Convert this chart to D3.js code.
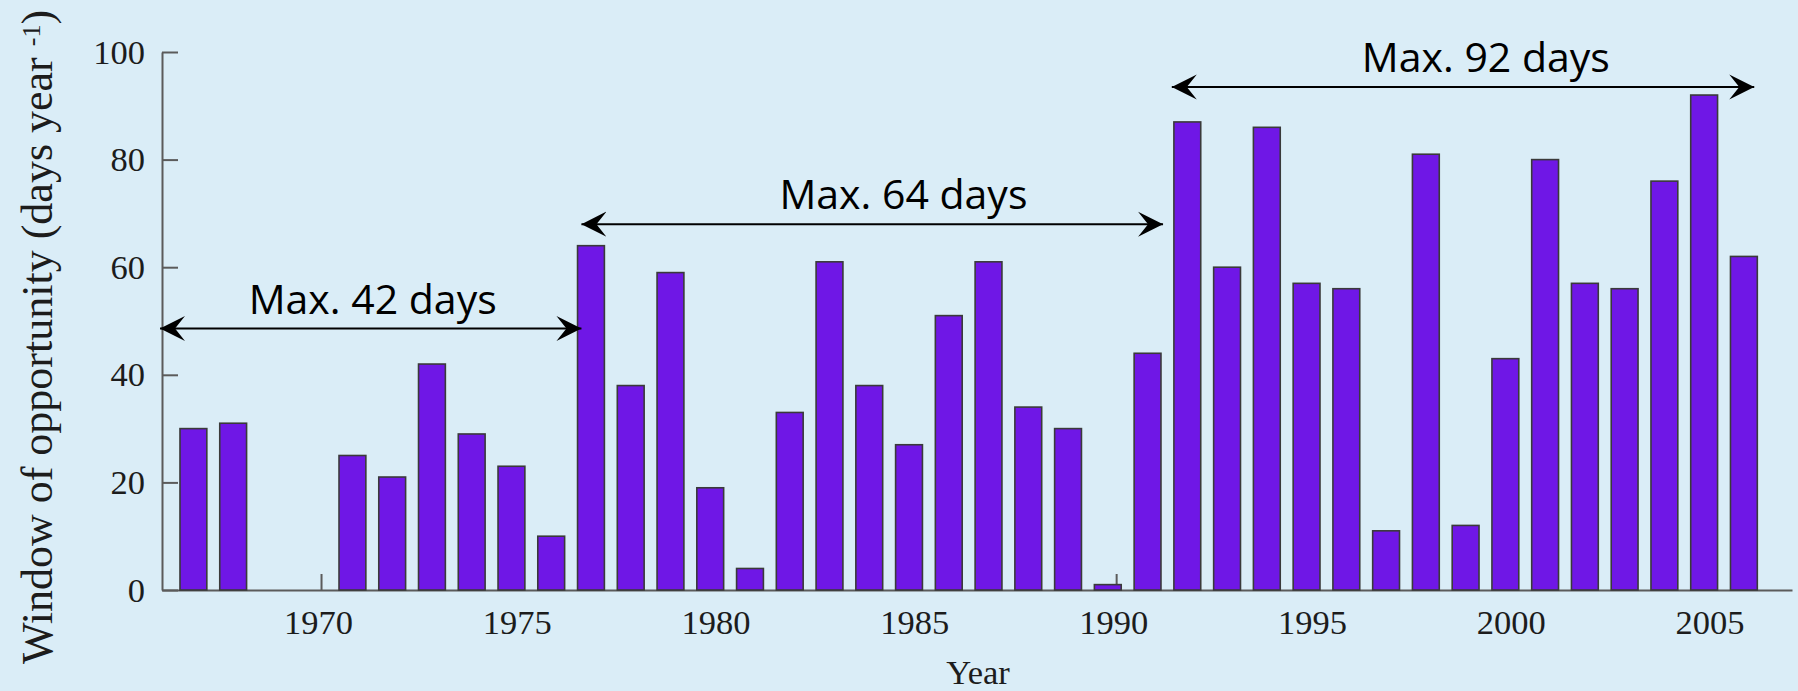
<!DOCTYPE html>
<html lang="en">
<head>
  <meta charset="UTF-8">
  <title>Window of opportunity</title>
  <script src="https://cdnjs.cloudflare.com/ajax/libs/d3/7.8.5/d3.min.js"></script>
  <style>
    html, body { margin: 0; padding: 0; background: #daedf7; }
    svg { display: block; }
  </style>
</head>
<body>
<svg id="chart" width="1798" height="691"></svg>
<script>
  // one bar per year, null = no bar drawn
  var years = [1967, 1968, 1969, 1970, 1971, 1972, 1973, 1974, 1975, 1976,
               1977, 1978, 1979, 1980, 1981, 1982, 1983, 1984, 1985, 1986,
               1987, 1988, 1989, 1990, 1991, 1992, 1993, 1994, 1995, 1996,
               1997, 1998, 1999, 2000, 2001, 2002, 2003, 2004, 2005, 2006];
  var days = [30, 31, null, null, 25, 21, 42, 29, 23, 10,
              64, 38, 59, 19, 4, 33, 61, 38, 27, 51,
              61, 34, 30, 1, 44, 87, 60, 86, 57, 56,
              11, 81, 12, 43, 80, 57, 56, 76, 92, 62];
  var xTicks = [1970, 1975, 1980, 1985, 1990, 1995, 2000, 2005];
  var yTicks = [0, 20, 40, 60, 80, 100];

  // the three "max" periods: arrow from / to (years), height (days), label
  var periodLabels = ['Max. 42 days', 'Max. 64 days', 'Max. 92 days'];
  var periodFrom = [1965.95, 1976.55, 1991.4];
  var periodTo = [1976.55, 1991.18, 2006.05];
  var periodLevel = [48.6, 68, 93.5];
  var periodLabelAt = [1971.3, 1984.65, 1999.3];

  var svg = d3.select('#chart');
  var x = d3.scaleLinear().domain([1966, 2007]).range([162, 1792]);
  var y = d3.scaleLinear().domain([0, 100]).range([590, 52]);
  var step = x(1967) - x(1966);
  var barW = step * 0.675;
  var barShift = -0.21 * step;   // bars sit a little left of the year ticks

  var axisColor = '#5b5b5b';
  var serif = '"Liberation Serif", "Times New Roman", serif';

  var gx = svg.append('g').attr('transform', 'translate(0,' + y(0) + ')')
    .call(d3.axisBottom(x).tickValues(xTicks).tickFormat(d3.format('d'))
      .tickSizeInner(-16).tickSizeOuter(0).tickPadding(20));
  var gy = svg.append('g').attr('transform', 'translate(' + x(1966) + ',0)')
    .call(d3.axisLeft(y).tickValues(yTicks)
      .tickSizeInner(-16).tickSizeOuter(0).tickPadding(17));

  [gx, gy].forEach(function(g) {
    g.select('.domain').attr('stroke', axisColor).attr('stroke-width', 2);
    g.selectAll('.tick line').attr('stroke', axisColor).attr('stroke-width', 2);
    g.selectAll('.tick text').attr('fill', '#1c1c1c')
      .style('font-family', serif).style('font-size', '34.5px');
  });
  gx.selectAll('.tick text').attr('x', -3);

  svg.append('g').selectAll('rect')
    .data(years.map(function(yr, i) { return {year: yr, v: days[i]}; })
      .filter(function(d) { return d.v != null; }))
    .enter().append('rect')
    .attr('x', function(d) { return x(d.year) + barShift - barW / 2; })
    .attr('y', function(d) { return y(d.v); })
    .attr('width', barW)
    .attr('height', function(d) { return y(0) - y(d.v); })
    .attr('fill', '#6f17e6')
    .attr('stroke', '#3a3a3a')
    .attr('stroke-width', 1.6);

  // axis titles
  svg.append('text')
    .attr('transform', 'translate(52,337) rotate(-90)')
    .attr('text-anchor', 'middle')
    .style('font-family', serif).style('font-size', '44px').attr('fill', '#1c1c1c')
    .call(function(t) {
      t.append('tspan').text('Window of opportunity (days year ');
      t.append('tspan').attr('dy', '-0.45em').style('font-size', '26px').text('-1');
      t.append('tspan').attr('dy', '0.27em').text(')');
    });
  svg.append('text')
    .attr('x', 978).attr('y', 684)
    .attr('text-anchor', 'middle')
    .style('font-family', serif).style('font-size', '34.5px').attr('fill', '#1c1c1c')
    .text('Year');

  // double headed arrows
  svg.append('defs').append('marker')
    .attr('id', 'head')
    .attr('viewBox', '0 -13 26 26')
    .attr('refX', 25).attr('refY', 0)
    .attr('markerUnits', 'userSpaceOnUse')
    .attr('markerWidth', 26).attr('markerHeight', 26)
    .attr('orient', 'auto-start-reverse')
    .append('path')
    .attr('d', 'M0,-12.5L25,0L0,12.5L10,0Z')
    .attr('fill', '#000');

  var ann = svg.append('g');
  periodLabels.forEach(function(lab, i) {
    ann.append('line')
      .attr('x1', x(periodFrom[i])).attr('x2', x(periodTo[i]))
      .attr('y1', y(periodLevel[i])).attr('y2', y(periodLevel[i]))
      .attr('stroke', '#000').attr('stroke-width', 2)
      .attr('marker-start', 'url(#head)').attr('marker-end', 'url(#head)');
    ann.append('text')
      .attr('x', x(periodLabelAt[i])).attr('y', y(periodLevel[i]) - 15)
      .attr('text-anchor', 'middle')
      .style('font-family', '"Open Sans", sans-serif').style('font-size', '41px')
      .attr('fill', '#000')
      .text(lab);
  });
</script>
</body>
</html>
